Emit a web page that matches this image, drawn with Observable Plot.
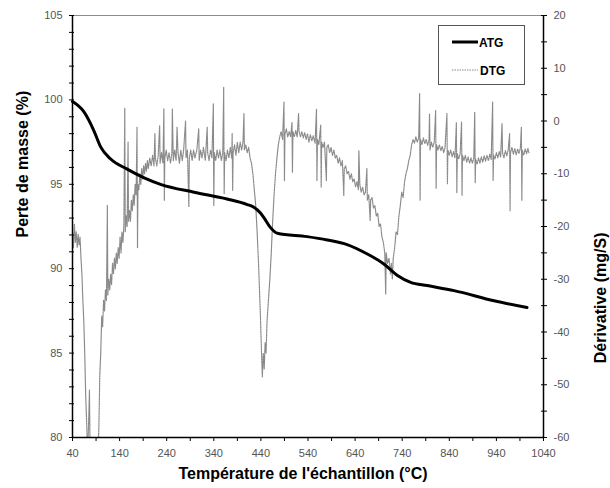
<!DOCTYPE html>
<html>
<head>
<meta charset="utf-8">
<script src="https://cdn.jsdelivr.net/npm/d3@7"></script>
<script src="https://cdn.jsdelivr.net/npm/@observablehq/plot@0.6"></script>
<style>
  html, body { margin: 0; padding: 0; background: #fff; }
  #chart svg [aria-label$="tick label"] text { fill: #555; }
</style>
</head>
<body>
<div id="chart"></div>
<script>
// ---- Data ----
const xTickLabels = [40, 140, 240, 340, 440, 540, 640, 740, 840, 940, 1040];
const massTickLabels = [80, 85, 90, 95, 100, 105];
const derivTickLabels = [-60, -50, -40, -30, -20, -10, 0, 10, 20];

// ATG : perte de masse (%) vs température (°C)
const atgTemp = [40, 64, 85, 100, 121, 156, 191, 227, 298, 368, 411, 425, 439, 446, 460, 475, 538, 581, 623, 666, 701, 730, 758, 793, 850, 935, 1005];
const atgMass = [99.9, 99.3, 98.2, 97.2, 96.5, 95.9, 95.4, 95.0, 94.53, 94.13, 93.8, 93.64, 93.3, 93.04, 92.45, 92.1, 91.9, 91.7, 91.43, 90.87, 90.28, 89.6, 89.19, 89.0, 88.7, 88.1, 87.7];

// DTG : dérivative (mg/S) vs température (°C)  [temp, value]
const dtgReadings = [
[40,-21],[42,-24],[44,-19.5],[46,-23],[48,-21],[50,-24],[52,-21.5],[54,-23.5],[56,-22],[58,-26],
[60,-29],[62,-34],[64,-38],[66,-44],[68,-52],[70,-57],[72,-63],[74,-58],[76,-51],[77,-60],[79,-66],
[85,-70],[90,-68],[94,-64],[96,-58],[98,-48],[100,-44],[102,-37],[104,-39],[106,-34],[108,-36],
[110,-32],[112,-34],[114,-16],[115,-33],[117,-30],[119,-32],[121,-29],[123,-31],[125,-27],[127,-29],
[129,-26],[131,-28],[133,-25],[135,-27],[137,-24],[139,-26],[141,-22],[143,-25],[145,-21],[147,-23],
[149,-20],[151,2.4],[152,-21],[154,-18],[156,-20],[158,-4],[159,-19],[161,-17],[163,-19],[165,-15],
[167,-17],[169,-14],[171,-16],[173,-12],[175,-14],[177,-1.2],[178,-24],[179,-12],[181,-13],[183,-10],
[185,-12],[187,-9],[189,-11],[191,-8.5],[193,-10],[195,-8],[197,-9.5],[199,-7.5],[201,-9],[204,-7],
[207,-8.5],[210,-6.5],[213,-8.5],[215,-2.4],[216,-7],[219,-8.5],[222,-6.5],[225,-0.9],[226,-8],[229,-6],
[232,-8],[234,2.3],[235,-15],[236,-7],[239,-5.5],[242,-7.5],[245,-6],[248,-8],[251,-6],[252,2.3],
[254,-7.5],[257,-5.5],[260,-7.5],[262,-1.2],[264,-6],[267,-8],[270,-5.5],[273,-7.5],[276,-5.5],[280,0],
[281,-7],[284,-5.5],[287,-16.3],[288,-7],[291,-5.5],[294,-7.5],[297,-5.5],[300,-7],[304,-5.5],[308,-1.5],
[309,-7.5],[312,-5.5],[315,-7],[318,-5],[322,-7.5],[326,-1.2],[327,-6],[330,-7.5],[333,-5.5],[336,-7],
[339,3.3],[340,-16],[341,-6],[344,-7.5],[347,-5.5],[350,-7],[353,-5.5],[356,-7.5],[359,-6],[361,6.4],
[362,-13.8],[363,-6],[366,-7.5],[369,-5.5],[372,-7],[375,-5],[378,-7],[379,-2.4],[380,-13.2],[381,-6],
[384,-4.5],[387,-6.5],[390,-4],[393,-6],[396,-4],[399,-5.5],[402,-4],[404,1.4],[405,-5.5],[408,-4.5],
[411,-6],[414,-5],[417,-7],[420,-8],[423,-10],[426,-13],[429,-16],[432,-21],[435,-27],[437,-32],
[439,-37],[441,-43],[443,-48.5],[445,-44],[447,-47],[449,-42],[451,-44],[453,-38],[456,-34],[459,-30],
[462,-25],[465,-19],[468,-14],[471,-10],[474,-7],[477,-4.5],[480,-3],[483,-2],[486,-3.5],[489,3.6],
[490,-11.3],[491,-2.5],[494,-1.5],[497,-3],[500,-2],[503,-3],[506,-0.3],[507,-9.7],[508,-2],[511,-3],
[514,-1.8],[517,-3],[520,1.4],[521,-2],[524,-3],[527,-2],[530,-3.2],[533,-2.2],[536,-3.5],[539,-2.4],
[542,-4],[545,-2.6],[548,-3.8],[551,-2.8],[555,-4.2],[558,2.2],[559,-11.3],[560,-3.5],[563,-4.5],[567,-0.8],
[568,-12.5],[569,-4],[572,-5],[575,-4],[579,-11.3],[580,-5],[583,-4.5],[586,-6],[589,-5],[592,-6.5],
[595,-5.5],[598,-7],[601,-6.5],[604,-8],[607,-7],[610,-8.5],[613,-7.5],[616,-14.1],[617,-9],[620,-8.5],
[623,-10],[626,-9.5],[629,-11],[632,-10],[635,-11.5],[638,-11],[641,-12.5],[644,-11.5],[647,-13],[648,-5.6],
[650,-12],[653,-13.5],[656,-12.5],[659,-14],[662,-13.5],[665,-9],[666,-15],[669,-14],[672,-18.9],[673,-15],
[676,-14.5],[679,-16.5],[682,-16],[685,-18],[688,-17.5],[691,-20],[694,-19.5],[697,-22],[700,-23],[703,-25],
[705,-32.8],[706,-25],[709,-27],[712,-26],[715,-29],[717,-27],[719,-30],[721,-26],[724,-24],[727,-21],
[730,-21.5],[733,-18],[736,-16],[739,-13.5],[742,-14.5],[745,-11.5],[748,-10],[751,-9],[754,-7.5],[757,-6.5],
[760,-4.5],[763,-3.5],[766,-4.2],[769,-3],[772,-4],[775,-3.2],[777,5.2],[778,-15],[779,-3.5],[782,-4.5],
[785,-3.2],[788,-4.3],[791,-3.5],[794,-4.6],[797,-3.6],[798,1.4],[799,-5.5],[802,-4],[805,-5],[808,-4],
[811,2],[812,-12.8],[813,-4.5],[816,-5.5],[819,-4.5],[822,-5.6],[825,-4.8],[828,-6],[831,-5],[835,1.4],
[836,-11.9],[837,-5.5],[840,-6.5],[843,-5.5],[846,-6.8],[849,-5.8],[852,-7],[855,-0.3],[856,-13.6],[857,-6.2],
[860,-7.2],[863,-6.2],[866,-0.2],[867,-14.1],[868,-6.5],[871,-7.5],[874,-6.5],[877,-7.8],[880,-6.8],[883,-8],
[886,-7],[889,-8],[892,-7],[894,1.7],[895,-11.7],[896,-7.2],[899,-8.2],[902,-7],[905,-8],[908,-6.8],
[911,-7.8],[914,-6.6],[917,-7.6],[920,-6.5],[923,-7.5],[926,-6.3],[929,-7.3],[932,3.6],[933,-11.3],[934,-6.5],
[937,-7.2],[940,-6],[943,-7],[946,-5.8],[949,-6.8],[952,-0.5],[953,-6],[956,-7],[959,-5.6],[962,-6.6],
[965,-5.5],[968,-2.4],[969,-17],[970,-6],[973,-5],[976,-6.3],[979,-5.2],[982,-6.4],[985,-5.3],[988,-6.2],
[991,-5],[993,-1.2],[994,-15],[995,-5.5],[998,-6.5],[1001,-5.3],[1004,-6.2],[1007,-5.2],[1009,-6]
];

// ---- Secondary axis mapping (derivative -> mass-axis units) ----
const massDomain = [80, 105];
const derivDomain = [-60, 20];
const toMass = d3.scaleLinear().domain(derivDomain).range(massDomain);

const atg = atgTemp.map((t, i) => ({t, v: atgMass[i]}));
const dtg = dtgReadings.map(([t, v]) => ({t, v}));

const xMinor = d3.range(40, 1041, 50);
const massMinor = d3.range(80, 105.01, 1);
const derivMinor = d3.range(-60, 20.01, 5);

const chart = Plot.plot({
  width: 610,
  height: 488,
  marginLeft: 72,
  marginRight: 67,
  marginTop: 15,
  marginBottom: 51,
  style: {fontFamily: "'Liberation Sans', Arial, sans-serif", fontSize: "11px", background: "#fff"},
  x: {domain: [40, 1040]},
  y: {domain: massDomain},
  marks: [
    Plot.ruleY([105], {stroke: "#8c8c8c", strokeWidth: 1}),
    Plot.line(dtg, {x: "t", y: d => toMass(d.v), stroke: "#8a8a8a", strokeWidth: 1.2, strokeDasharray: "1.5,1", clip: true}),
    Plot.line(atg, {x: "t", y: "v", stroke: "#000", strokeWidth: 3, curve: "monotone-x"}),
    Plot.ruleX([40], {stroke: "#000", strokeWidth: 1.5}),
    Plot.ruleX([1040], {stroke: "#000", strokeWidth: 1.5}),
    Plot.ruleY([80], {stroke: "#000", strokeWidth: 1.5}),
    Plot.axisX({ticks: xMinor, tickSize: 4, tickPadding: 8, stroke: "#000",
      tickFormat: d => xTickLabels.includes(d) ? String(d) : "", label: null}),
    Plot.axisY({anchor: "left", ticks: massMinor, tickSize: 5, dx: 2, tickPadding: 7, stroke: "#000",
      tickFormat: d => massTickLabels.includes(Math.round(d)) && Math.abs(d - Math.round(d)) < 1e-6 ? String(Math.round(d)) : "", label: null}),
    Plot.axisY({anchor: "right", ticks: derivMinor.map(toMass), tickSize: 6, dx: -3, tickPadding: 7, stroke: "#000",
      tickFormat: m => { const d = Math.round(toMass.invert(m)); return derivTickLabels.includes(d) ? String(d) : ""; }, label: null}),
    Plot.text(["Température de l'échantillon (°C)"], {frameAnchor: "bottom", dx: -5, dy: 41, fontSize: 16, fontWeight: "bold", fill: "#000"}),
    Plot.text(["Perte de masse (%)"], {frameAnchor: "left", rotate: -90, dx: -50, dy: 11, fontSize: 16, fontWeight: "bold", fill: "#000"}),
    Plot.text(["Dérivative (mg/S)"], {frameAnchor: "right", rotate: -90, dx: 57, dy: 6, fontSize: 16, fontWeight: "bold", fill: "#000"})
  ]
});

// Legend box (inside the SVG)
const svg = d3.select(chart);
const lg = svg.append("g")
  .attr("font-family", "'Liberation Sans', Arial, sans-serif")
  .attr("text-anchor", "start");
lg.append("rect").attr("x", 438.5).attr("y", 25.5).attr("width", 86).attr("height", 59)
  .attr("fill", "#fff").attr("stroke", "#555").attr("stroke-width", 1);
lg.append("line").attr("x1", 452).attr("x2", 478).attr("y1", 42).attr("y2", 42)
  .attr("stroke", "#000").attr("stroke-width", 3);
lg.append("line").attr("x1", 452).attr("x2", 478).attr("y1", 70).attr("y2", 70)
  .attr("stroke", "#8a8a8a").attr("stroke-width", 1.2).attr("stroke-dasharray", "1.5,1");
lg.append("text").attr("x", 479).attr("y", 46.5).attr("font-size", 12).attr("font-weight", "bold").attr("fill", "#000").text("ATG");
lg.append("text").attr("x", 480).attr("y", 74.5).attr("font-size", 12).attr("font-weight", "bold").attr("fill", "#000").text("DTG");

document.getElementById("chart").appendChild(chart);
</script>
</body>
</html>
